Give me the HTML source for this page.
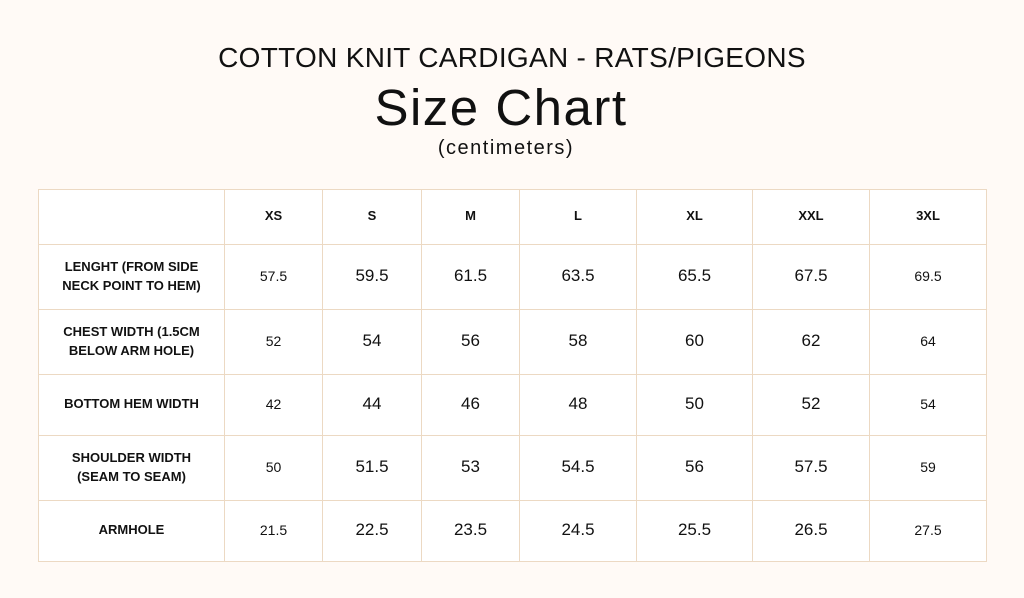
<!DOCTYPE html>
<html><head><style>
body{margin:0;width:1024px;height:598px;background:#fffaf6;font-family:"Liberation Sans",sans-serif;color:#111;position:relative;overflow:hidden}
.t{position:absolute;left:0;width:1024px;text-align:center}
table{position:absolute;left:38px;top:189px;border-collapse:collapse;background:#fff}
td{border:1.5px solid #ecd9c3;text-align:center;padding:0 0 3px 0;font-size:17px}
.h td{font-weight:bold;font-size:13px}
td.l{font-weight:bold;font-size:13px;line-height:19px}
td.s{font-size:14px}
</style></head><body>
<div class="t" style="top:42px;font-size:28px;letter-spacing:0.3px">COTTON KNIT CARDIGAN - RATS/PIGEONS</div>
<div class="t" style="top:78px;font-size:51px;letter-spacing:1.5px;left:-11px">Size Chart</div>
<div class="t" style="top:137px;font-size:20px;letter-spacing:1.5px;left:-6px">(centimeters)</div>
<table>
<colgroup><col style="width:186px"><col style="width:98px"><col style="width:99px"><col style="width:98px"><col style="width:117px"><col style="width:116px"><col style="width:117px"><col style="width:117px"></colgroup>
<tr class="h" style="height:55px"><td></td><td>XS</td><td>S</td><td>M</td><td>L</td><td>XL</td><td>XXL</td><td>3XL</td></tr>
<tr style="height:65px"><td class="l">LENGHT (FROM SIDE<br>NECK POINT TO HEM)</td><td class="s">57.5</td><td>59.5</td><td>61.5</td><td>63.5</td><td>65.5</td><td>67.5</td><td class="s">69.5</td></tr>
<tr style="height:65px"><td class="l">CHEST WIDTH (1.5CM<br>BELOW ARM HOLE)</td><td class="s">52</td><td>54</td><td>56</td><td>58</td><td>60</td><td>62</td><td class="s">64</td></tr>
<tr style="height:61px"><td class="l">BOTTOM HEM WIDTH</td><td class="s">42</td><td>44</td><td>46</td><td>48</td><td>50</td><td>52</td><td class="s">54</td></tr>
<tr style="height:65px"><td class="l">SHOULDER WIDTH<br>(SEAM TO SEAM)</td><td class="s">50</td><td>51.5</td><td>53</td><td>54.5</td><td>56</td><td>57.5</td><td class="s">59</td></tr>
<tr style="height:61px"><td class="l">ARMHOLE</td><td class="s">21.5</td><td>22.5</td><td>23.5</td><td>24.5</td><td>25.5</td><td>26.5</td><td class="s">27.5</td></tr>
</table>
</body></html>
